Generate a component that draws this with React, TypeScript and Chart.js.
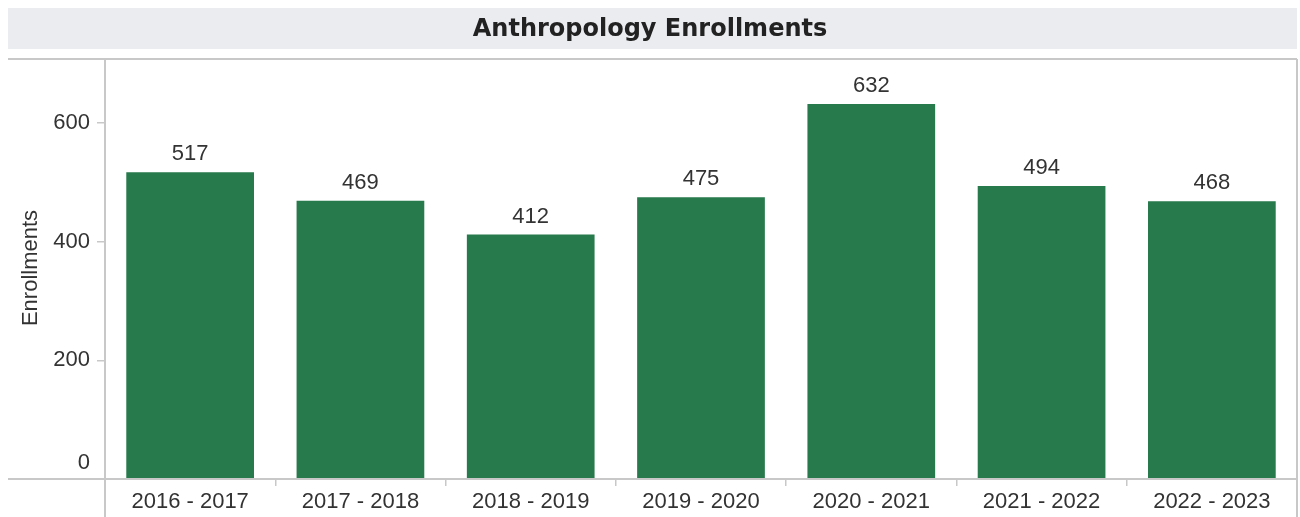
import React, { useEffect, useRef } from "react";
import { Chart, registerables } from "chart.js";

Chart.register(...registerables);

const categories = ["2016 - 2017", "2017 - 2018", "2018 - 2019", "2019 - 2020", "2020 - 2021", "2021 - 2022", "2022 - 2023"];
const enrollments = [517, 469, 412, 475, 632, 494, 468];
const yTickValues = [0, 200, 400, 600];
const chartTitle = "Anthropology Enrollments";
const yAxisTitle = "Enrollments";

const TEXT = "#333333";
const LINE = "#c8c8c8";
const FONT = "'Liberation Sans', Arial, sans-serif";

const decorPlugin = {
  id: "decor",
  beforeDraw(chart: any) {
    const { ctx } = chart;
    ctx.save();
    ctx.fillStyle = "#ebecf0";
    ctx.fillRect(8, 8, 1289, 41);
    ctx.fillStyle = "#222222";
    ctx.font = "bold 24px 'DejaVu Sans', sans-serif";
    ctx.textAlign = "center";
    ctx.textBaseline = "middle";
    ctx.fillText(chartTitle, 650, 30);
    ctx.restore();
  },
  afterDraw(chart: any) {
    const { ctx, chartArea, scales } = chart;
    const H = chart.height;
    const y = scales.y;
    ctx.save();
    ctx.strokeStyle = LINE;
    ctx.lineWidth = 2;
    ctx.beginPath();
    ctx.moveTo(8, chartArea.top);
    ctx.lineTo(chartArea.right, chartArea.top);
    ctx.moveTo(chartArea.right, chartArea.top);
    ctx.lineTo(chartArea.right, H);
    ctx.moveTo(chartArea.left, chartArea.top);
    ctx.lineTo(chartArea.left, H);
    ctx.moveTo(8, chartArea.bottom);
    ctx.lineTo(chartArea.right, chartArea.bottom);
    ctx.stroke();

    ctx.fillStyle = TEXT;
    ctx.font = `22px ${FONT}`;
    ctx.textAlign = "right";
    ctx.textBaseline = "middle";
    y.ticks.forEach((t: any) => {
      const py = y.getPixelForValue(t.value);
      const shift = t.value === 0 ? -16 : 0;
      ctx.fillText(String(t.value), 90, py + shift);
    });

    ctx.save();
    ctx.translate(31, 268);
    ctx.rotate(-Math.PI / 2);
    ctx.textAlign = "center";
    ctx.textBaseline = "middle";
    ctx.font = `22px ${FONT}`;
    ctx.fillText(yAxisTitle, 0, 0);
    ctx.restore();

    const meta = chart.getDatasetMeta(0);
    ctx.font = `22px ${FONT}`;
    ctx.textAlign = "center";
    ctx.textBaseline = "middle";
    meta.data.forEach((bar: any, i: number) => {
      ctx.fillText(String(enrollments[i]), bar.x, bar.y - 18);
    });
    ctx.restore();
  },
};

export default function App() {
  const ref = useRef<HTMLCanvasElement | null>(null);
  useEffect(() => {
    if (!ref.current) return;
    const chart = new Chart(ref.current, {
      type: "bar",
      data: {
        labels: categories,
        datasets: [
          {
            data: enrollments,
            backgroundColor: "#277a4b",
            categoryPercentage: 1,
            barPercentage: 0.75,
          },
        ],
      },
      options: {
        animation: false,
        responsive: false,
        maintainAspectRatio: false,
        layout: { padding: { top: 59, right: 3, left: 0, bottom: 0 } },
        plugins: { legend: { display: false }, tooltip: { enabled: false }, title: { display: false } },
        scales: {
          x: {
            grid: { display: true, offset: true, drawOnChartArea: false, drawTicks: true, tickLength: 7, color: LINE, lineWidth: 1.5 },
            border: { display: false },
            ticks: { color: TEXT, font: { size: 22, family: FONT }, padding: 3, maxRotation: 0, autoSkip: false },
            afterFit(scale: any) {
              scale.height = 38;
            },
          },
          y: {
            min: 0,
            max: 708,
            afterBuildTicks(scale: any) {
              scale.ticks = yTickValues.map((v) => ({ value: v }));
            },
            grid: { display: true, drawOnChartArea: false, drawTicks: true, tickLength: 8, color: LINE, lineWidth: 1.5 },
            border: { display: false },
            ticks: { display: false },
            afterFit(scale: any) {
              scale.width = 105;
            },
          },
        },
      },
      plugins: [decorPlugin],
    });
    return () => chart.destroy();
  }, []);
  return (
    <div style={{ position: "absolute", left: 0, top: 0, width: 1300, height: 517 }}>
      <canvas ref={ref} width={1300} height={517} style={{ display: "block", width: 1300, height: 517 }} />
    </div>
  );
}
